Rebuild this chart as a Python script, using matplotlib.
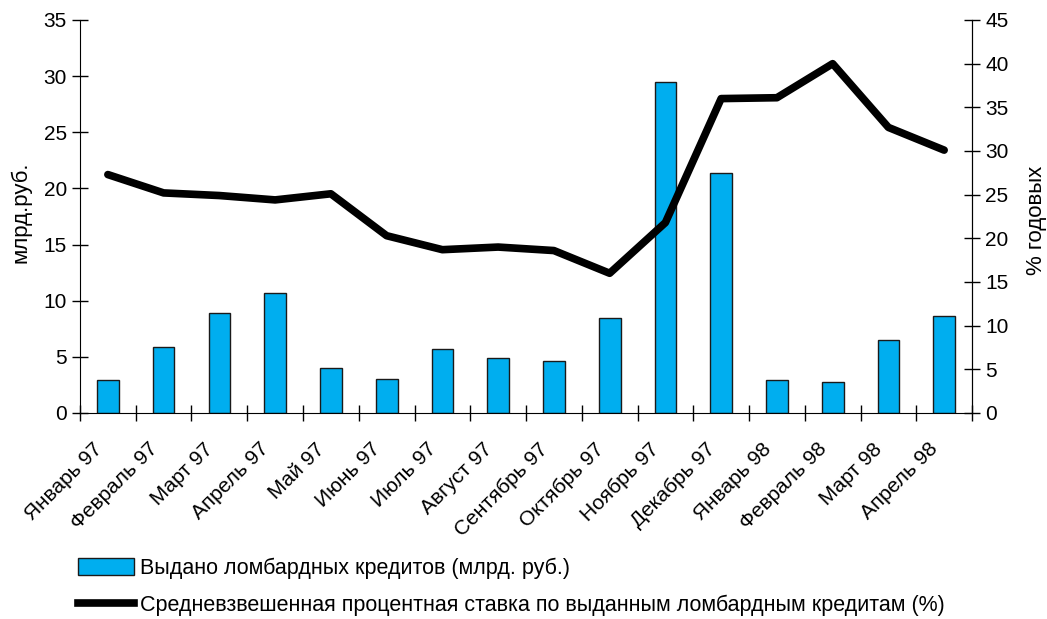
import matplotlib.pyplot as plt
from matplotlib.ticker import FixedLocator
from matplotlib.lines import Line2D
from matplotlib.patches import Patch
import numpy as np

plt.rcParams['font.family'] = ['Liberation Sans', 'DejaVu Sans']

months = ['Январь 97', 'Февраль 97', 'Март 97', 'Апрель 97', 'Май 97', 'Июнь 97',
          'Июль 97', 'Август 97', 'Сентябрь 97', 'Октябрь 97', 'Ноябрь 97',
          'Декабрь 97', 'Январь 98', 'Февраль 98', 'Март 98', 'Апрель 98']
credits = [2.9, 5.9, 8.9, 10.7, 4.0, 3.0, 5.7, 4.9, 4.6, 8.5, 29.5, 21.4, 2.9, 2.8, 6.5, 8.6]
rate = [27.3, 25.2, 24.9, 24.4, 25.1, 20.3, 18.7, 19.0, 18.6, 16.0, 21.8, 36.0, 36.1, 40.0, 32.7, 30.1]

bar_label = 'Выдано ломбардных кредитов (млрд. руб.)'
line_label = 'Средневзвешенная процентная ставка по выданным ломбардным кредитам (%)'

fig = plt.figure(figsize=(10.47, 6.19), dpi=100)
ax = fig.add_axes([0.0764, 0.3328, 0.8520, 0.6349])
ax2 = ax.twinx()

x = np.arange(len(months))
ax.bar(x, credits, width=0.39, color='#00AEEF', edgecolor='#1a1a1a', linewidth=1.0, zorder=2)
ax2.plot(x, rate, color='black', linewidth=5.5, solid_capstyle='round', zorder=3)

ax.set_xlim(-0.5, len(months) - 0.5)
ax.set_ylim(0, 35)
ax2.set_ylim(0, 45)
ax.set_yticks(range(0, 36, 5))
ax2.set_yticks(range(0, 46, 5))

# labels sit a bit left of the bar centres, as in the original
ax.set_xticks(x - 0.28)
ax.set_xticklabels(months, rotation=45, ha='right', rotation_mode='anchor', fontsize=15)
ax.xaxis.set_minor_locator(FixedLocator(np.arange(-0.5, len(months), 1.0)))
ax.tick_params(axis='x', which='major', length=0, pad=19)
ax.tick_params(axis='x', which='minor', direction='inout', length=12, width=1)
ax.tick_params(axis='y', direction='inout', length=12, width=1, labelsize=15)
ax2.tick_params(axis='y', direction='inout', length=12, width=1, labelsize=15)

for a in (ax, ax2):
    a.spines['top'].set_visible(False)
ax2.spines['left'].set_visible(False)
ax2.spines['bottom'].set_visible(False)

ax.set_ylabel('млрд.руб.', fontsize=16)
ax.yaxis.set_label_coords(-0.054, 0.51)
ax2.set_ylabel('% годовых', fontsize=16)
ax2.yaxis.set_label_coords(1.061, 0.49)

handles = [Patch(facecolor='#00AEEF', edgecolor='#1a1a1a', linewidth=1.0),
           Line2D([0], [0], color='black', linewidth=5.5)]
fig.legend(handles, [bar_label, line_label], loc='upper left',
           bbox_to_anchor=(0.066, 0.113), frameon=False, fontsize=15.5,
           handlelength=2.6, handleheight=0.85, handletextpad=0.3,
           labelspacing=0.75, borderaxespad=0)

fig.savefig('out.png', dpi=100)
